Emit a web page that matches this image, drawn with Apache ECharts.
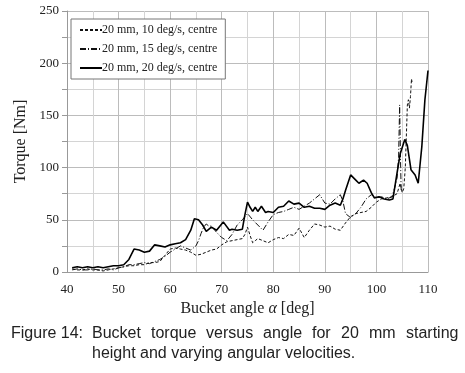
<!DOCTYPE html>
<html>
<head>
<meta charset="utf-8">
<script src="https://cdn.jsdelivr.net/npm/echarts@6/dist/echarts.min.js"></script>
<style>
  html, body { margin: 0; padding: 0; background: #fff; }
  #chart { width: 465px; height: 373px; }
</style>
</head>
<body>
<div id="chart"></div>
<script>
// 20 mm, 10 deg/s, centre (dashed)
const angle10 = [41, 42, 43, 44, 45, 46, 47, 48, 49, 50, 51, 52, 53, 54, 55, 56, 57, 58, 59, 60,
  61, 62, 63, 64, 65, 66, 67, 68, 69, 70, 71, 72, 73, 74, 74.5, 75, 75.5, 76, 76.5, 77, 78, 79, 80,
  81, 82, 83, 84, 85, 86, 87, 88, 89, 90, 91, 92, 93, 94, 95, 96, 97, 98, 99, 100, 101, 102, 103,
  104, 104.6, 105, 105.3, 105.6, 106, 106.2, 106.4, 106.6, 106.8, 106.9]
const torque10 = [3, 2, 2, 3, 2, 2, 1, 2, 3, 4, 5, 6, 6, 7, 7, 9, 9, 10, 16, 22,
  23, 22, 21, 19, 16, 17, 19, 21, 22, 26, 29, 30, 31, 32, 36, 43, 35, 28, 30, 32, 30, 28, 31,
  33, 32, 36, 35, 42, 33, 40, 46, 45, 43, 44, 41, 40, 47, 53, 56, 57, 58, 62, 67, 70, 71, 72,
  75, 85, 76, 80, 100, 160, 165, 157, 168, 185, 182]

// 20 mm, 15 deg/s, centre (dash-dot)
const angle15 = [41, 42, 43, 44, 45, 46, 47, 48, 49, 50, 51, 52, 53, 54, 55, 56, 57, 58, 59, 60,
  61, 62, 63, 64, 65, 65.5, 66, 66.5, 67, 67.5, 68, 69, 70, 71, 72, 73, 74, 75, 76, 77, 78, 79, 80,
  81, 82, 83, 84, 85, 86, 87, 88, 89, 90, 91, 92, 93, 93.5, 94, 95, 96, 97, 98, 99, 100, 101, 102,
  103, 103.5, 104, 104.3, 104.5, 104.7, 104.8]
const torque15 = [2, 3, 2, 2, 3, 2, 2, 3, 2, 4, 5, 7, 7, 8, 9, 8, 10, 12, 15, 19,
  22, 25, 23, 21, 25, 30, 37, 43, 46, 44, 44, 38, 33, 30, 36, 45, 50, 56, 50, 45, 40, 48, 55,
  57, 58, 60, 62, 60, 63, 66, 70, 74, 66, 65, 70, 74, 68, 56, 52, 56, 62, 70, 74, 71, 72, 70,
  72, 80, 90, 110, 160, 100, 78]

// 20 mm, 20 deg/s, centre (solid)
const angle20 = [41, 42, 43, 44, 45, 46, 47, 48, 49, 50, 51, 52, 53, 54, 55, 56, 57, 58, 59, 60,
  61, 62, 63, 64, 64.7, 65.5, 66.3, 67, 68, 69, 70.3, 71.5, 72, 73, 74, 74.5, 75, 75.5, 76, 76.5,
  77, 77.7, 78.5, 79, 80, 81, 82, 83, 84, 85, 86, 87, 88, 89, 90, 91, 92, 93, 93.5, 94, 95, 96,
  96.6, 97.5, 98.2, 99, 99.6, 100.5, 101.5, 102.5, 103.2, 104, 104.6, 105.5, 106, 106.7, 107.5,
  108.1, 108.8, 109.4, 110]
const torque20 = [4, 5, 4, 5, 4, 5, 4, 5, 6, 6, 7, 12, 22, 21, 19, 20, 26, 25, 24, 26,
  27, 28, 31, 40, 51, 50, 45, 39, 43, 40, 48, 40, 41, 40, 41, 55, 67, 62, 58, 62,
  58, 63, 57, 58, 57, 62, 63, 68, 65, 66, 62, 63, 61, 61, 60, 64, 66, 64, 70, 78, 93, 88,
  85, 88, 85, 76, 71, 72, 70, 69, 70, 95, 113, 127, 121, 98, 93,
  85, 120, 165, 193]

const seriesNames = ['20 mm, 10 deg/s, centre', '20 mm, 15 deg/s, centre', '20 mm, 20 deg/s, centre']

const captionLabel = 'Figure 14:'
const captionLine1 = ['Bucket', 'torque', 'versus', 'angle', 'for', '20', 'mm', 'starting']
const captionLine2 = 'height and varying angular velocities.'

const pairs = (xs, ys) => xs.map((x, i) => [x, ys[i]])

const chart = echarts.init(document.getElementById('chart'))

const serif = 'Liberation Serif'
const captionFont = '16px "Liberation Sans"'

// justify the first caption line between the hanging indent and the right edge
const ctx = document.createElement('canvas').getContext('2d')
ctx.font = captionFont
const indent = 92, rightEdge = 458
const widths = captionLine1.map(w => ctx.measureText(w).width)
const used = widths.reduce((a, b) => a + b, 0)
const gap = (rightEdge - indent - used) / (captionLine1.length - 1)
const captionItems = [{
  type: 'text', left: 11, top: 326,
  style: { text: captionLabel, font: captionFont, fill: '#222' }
}]
let cx = indent
captionLine1.forEach((w, i) => {
  captionItems.push({
    type: 'text', left: Math.round(cx), top: 326,
    style: { text: w, font: captionFont, fill: '#222' }
  })
  cx += widths[i] + gap
})
captionItems.push({
  type: 'text', left: indent, top: 346,
  style: { text: captionLine2, font: captionFont, fill: '#222' }
})

const option = {
  animation: false,
  backgroundColor: '#fff',
  grid: { left: 67, right: 37, top: 11, bottom: 101 },
  legend: {
    orient: 'vertical',
    left: 71,
    top: 19,
    padding: [5, 8, 5, 8],
    itemWidth: 22,
    itemHeight: 12,
    itemGap: 7,
    borderColor: '#777',
    borderWidth: 1,
    backgroundColor: '#fff',
    itemStyle: { opacity: 0 },
    textStyle: { fontFamily: serif, fontSize: 12, color: '#222', padding: [0, 0, 0, -5] },
    data: seriesNames
  },
  xAxis: {
    type: 'value',
    min: 40,
    max: 110,
    interval: 10,
    name: '{t|Bucket angle }{a|α}{t| [deg]}',
    nameLocation: 'middle',
    nameGap: 27,
    nameTextStyle: {
      rich: {
        t: { fontFamily: serif, fontSize: 16, color: '#222' },
        a: { fontFamily: serif, fontSize: 16, fontStyle: 'italic', color: '#222' }
      }
    },
    axisLine: { show: true, lineStyle: { color: '#999' } },
    axisTick: { show: false },
    axisLabel: { fontFamily: serif, fontSize: 13, color: '#222', margin: 11 },
    splitLine: { show: true, lineStyle: { color: '#bcbcbc' } },
    minorTick: { show: false, splitNumber: 2 },
    minorSplitLine: { show: true, lineStyle: { color: '#d4d4d4' } }
  },
  yAxis: {
    type: 'value',
    min: 0,
    max: 250,
    interval: 50,
    name: 'Torque [Nm]',
    nameLocation: 'middle',
    nameGap: 37,
    nameTextStyle: { fontFamily: serif, fontSize: 16, color: '#222' },
    axisLine: { show: true, lineStyle: { color: '#999' } },
    axisTick: { show: true, inside: false, length: 5, lineStyle: { color: '#999' } },
    axisLabel: { fontFamily: serif, fontSize: 13, color: '#222', margin: 8 },
    splitLine: { show: true, lineStyle: { color: '#bcbcbc' } },
    minorTick: { show: true, splitNumber: 2, length: 5, lineStyle: { color: '#999' } },
    minorSplitLine: { show: true, lineStyle: { color: '#d4d4d4' } }
  },
  series: [
    {
      name: seriesNames[0],
      type: 'line',
      symbol: 'none',
      data: pairs(angle10, torque10),
      lineStyle: { color: '#111', width: 1, type: [3, 2] },
      itemStyle: { color: '#111' },
      z: 3
    },
    {
      name: seriesNames[1],
      type: 'line',
      symbol: 'none',
      data: pairs(angle15, torque15),
      lineStyle: { color: '#111', width: 1, type: [6, 2, 1, 2] },
      itemStyle: { color: '#111' },
      z: 4
    },
    {
      name: seriesNames[2],
      type: 'line',
      symbol: 'none',
      data: pairs(angle20, torque20),
      lineStyle: { color: '#000', width: 1.6 },
      itemStyle: { color: '#000' },
      z: 5
    }
  ],
  graphic: captionItems
}

chart.setOption(option)
</script>
</body>
</html>
